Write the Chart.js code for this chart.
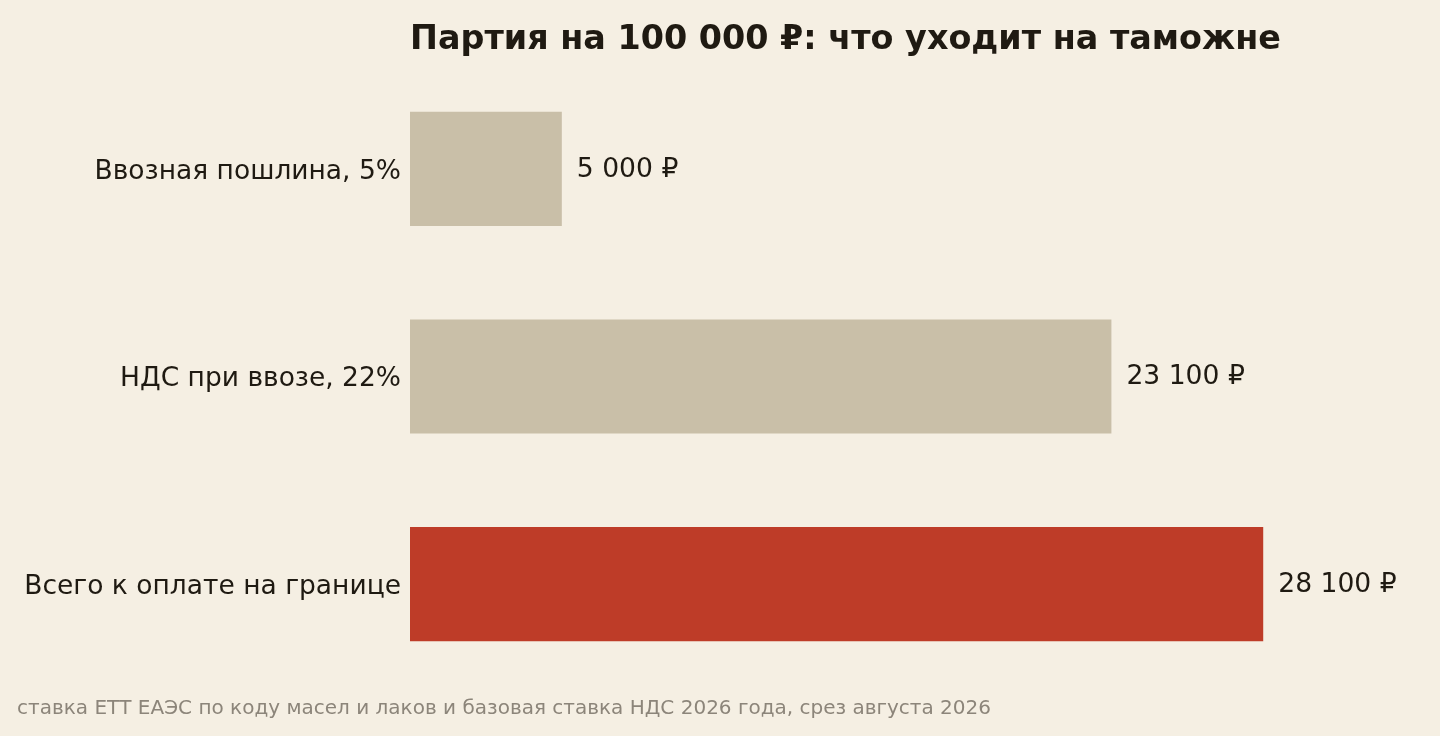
<!DOCTYPE html>
<html>
<head>
<meta charset="utf-8">
<script src="https://cdn.jsdelivr.net/npm/chart.js@4"></script>
<style>
  html, body { margin:0; padding:0; background:#F5EFE3; }
  #wrap { position:relative; width:1440px; height:736px; }
  canvas { display:block; }
</style>
</head>
<body>
<div id="wrap"><canvas id="c" width="1440" height="736"></canvas></div>
<script>
const categories = ["Ввозная пошлина, 5%", "НДС при ввозе, 22%", "Всего к оплате на границе"];
const values = [5000, 23100, 28100];
const valueLabels = ["5 000 ₽", "23 100 ₽", "28 100 ₽"];
const barColors = ["#C9BFA8", "#C9BFA8", "#BE3C28"];
const titleText = "Партия на 100 000 ₽: что уходит на таможне";
const noteText = "ставка ЕТТ ЕАЭС по коду масел и лаков и базовая ставка НДС 2026 года, срез августа 2026";

const FONT = "'DejaVu Sans', sans-serif";
const TEXT = "#1F1A12";

const bgPlugin = {
  id: 'bg',
  beforeDraw(chart) {
    const ctx = chart.ctx;
    ctx.save();
    ctx.fillStyle = "#F5EFE3";
    ctx.fillRect(0, 0, chart.width, chart.height);
    ctx.restore();
  }
};

const textPlugin = {
  id: 'texts',
  afterDatasetsDraw(chart) {
    const ctx = chart.ctx;
    const area = chart.chartArea;
    ctx.save();
    ctx.fillStyle = TEXT;
    ctx.font = "bold 33.4px " + FONT;
    ctx.textAlign = "left";
    ctx.textBaseline = "middle";
    ctx.fillText(titleText, area.left, 40);
    ctx.font = "26.6px " + FONT;
    const meta = chart.getDatasetMeta(0);
    meta.data.forEach((bar, i) => {
      ctx.fillText(valueLabels[i], bar.x + 15, bar.y + 1);
    });
    ctx.fillStyle = "#8C857A";
    ctx.font = "20px " + FONT;
    ctx.fillText(noteText, 17, 709);
    ctx.restore();
  }
};

new Chart(document.getElementById('c'), {
  type: 'bar',
  data: {
    labels: categories,
    datasets: [{
      data: values,
      backgroundColor: barColors,
      borderWidth: 0,
      categoryPercentage: 1.0,
      barPercentage: 0.55
    }]
  },
  options: {
    indexAxis: 'y',
    responsive: false,
    animation: false,
    devicePixelRatio: 1,
    layout: { padding: { left: 0, right: 28, top: 65, bottom: 48 } },
    plugins: {
      legend: { display: false },
      title: { display: false },
      tooltip: { enabled: false }
    },
    scales: {
      x: {
        display: false,
        min: 0,
        max: 33000
      },
      y: {
        grid: { display: false, drawTicks: false },
        border: { display: false },
        ticks: {
          color: TEXT,
          font: { family: "DejaVu Sans", size: 26.5 },
          padding: 9,
          labelOffset: 3
        },
        afterFit(scale) { scale.width = 410; }
      }
    }
  },
  plugins: [bgPlugin, textPlugin]
});
</script>
</body>
</html>
